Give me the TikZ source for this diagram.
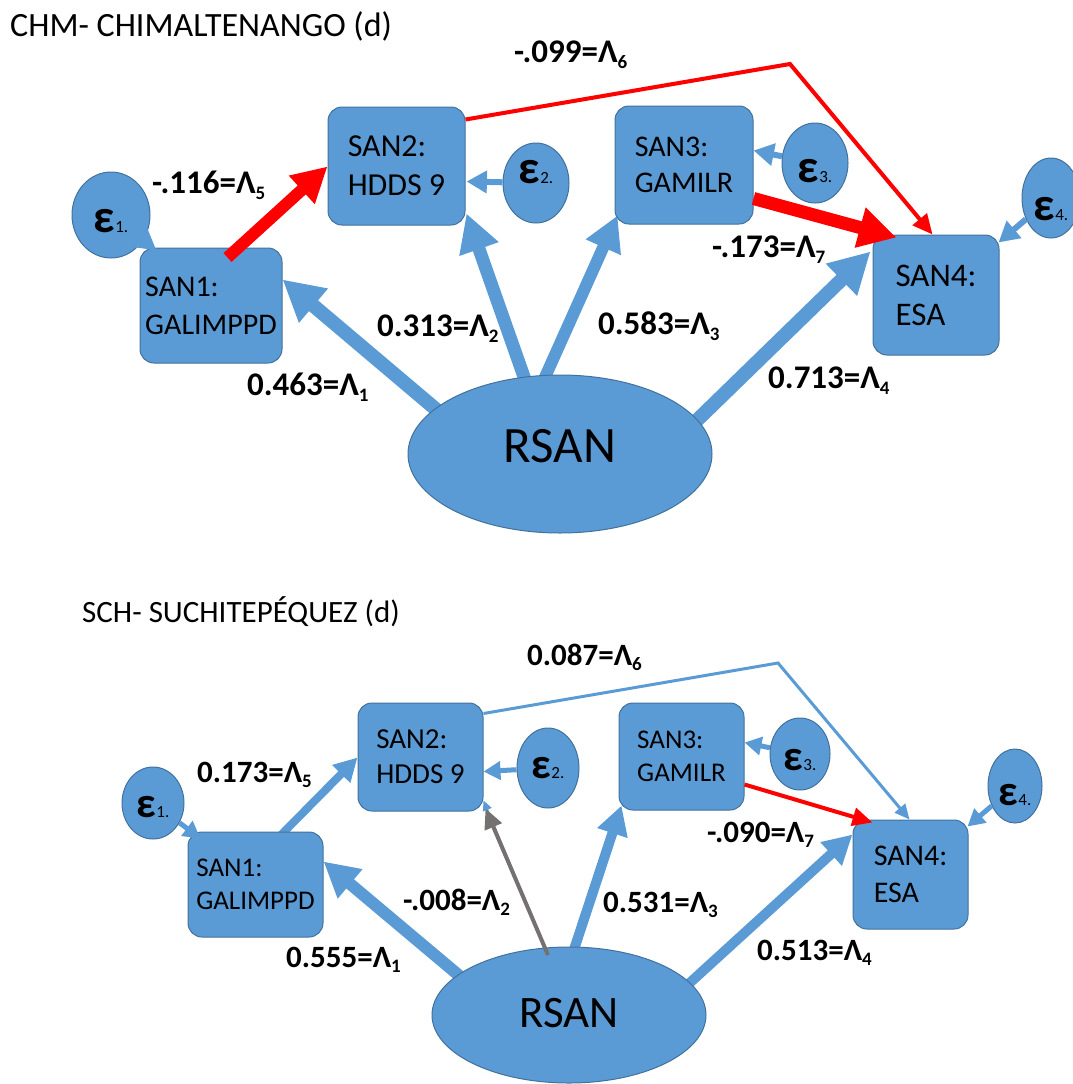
\documentclass[tikz,border=0pt]{standalone}
\usepackage{fontspec}
\setmainfont{Carlito}
\usetikzlibrary{arrows.meta,shapes.geometric,calc}

\definecolor{boxblue}{HTML}{5B9BD5}
\definecolor{edgeblue}{HTML}{41719C}
\definecolor{pathred}{HTML}{FF0000}
\definecolor{pathgray}{HTML}{767171}

\pgfdeclarelayer{background}
\pgfsetlayers{background,main}

% error term text: big epsilon with a small index, baseline set below the centre
\newcommand\epslabel[3]{\raisebox{-#2pt}[0pt][0pt]{\bfseries\fontsize{#3}{#3}\selectfont ε\normalfont\fontsize{17}{17}\selectfont #1.}}
% index of a loading: lowered, smaller digit
\newcommand\lsub[2][6]{\raisebox{-#1pt}{\fontsize{19}{19}\selectfont #2}}

\tikzset{
  sanbox/.style={draw=edgeblue, fill=boxblue, line width=1pt, rounded corners=14pt,
                 align=left, inner sep=0pt},
  latent/.style={ellipse, draw=edgeblue, fill=boxblue, line width=1pt, inner sep=0pt},
  errnode/.style={ellipse, draw=edgeblue, fill=boxblue, line width=1pt, inner sep=0pt},
  coef/.style={anchor=base west, inner sep=0pt},
  heading/.style={anchor=base west, inner sep=0pt},
  heavyarrow/.style={line width=#1, -{Triangle[length=0pt 2.9, width=0pt 3]}},
  midarrow/.style={line width=#1, -{Triangle[length=0pt 3.4, width=0pt 3.6]}},
  lightarrow/.style={line width=#1, -{Triangle[length=0pt 5, width=0pt 4.5]}},
}

\begin{document}
\begin{tikzpicture}[x=1pt, y=-1pt]
\useasboundingbox (0,0) rectangle (1073,1084);

%% ---------------- CHM - Chimaltenango ----------------
\node[heading, font=\fontsize{34}{34}\selectfont] (titleA) at (10,36) {CHM- CHIMALTENANGO (d)};

\node[latent, minimum width=304pt, minimum height=158pt] (rsanA) at (560,454)
  {\fontsize{51}{51}\selectfont\raisebox{-8pt}[0pt][0pt]{RSAN}};

\node[sanbox, minimum width=142pt, minimum height=115pt, font=\fontsize{30}{38}\selectfont]
  (sanA1) at (211,305.5) {SAN1:\\GALIMPPD};
\node[sanbox, minimum width=137pt, minimum height=118pt, font=\fontsize{32}{39}\selectfont]
  (sanA2) at (396.5,166) {SAN2:\\HDDS 9};
\node[sanbox, minimum width=138pt, minimum height=118pt, font=\fontsize{30}{36}\selectfont]
  (sanA3) at (684,165) {SAN3:\\GAMILR};
\node[sanbox, minimum width=126pt, minimum height=120pt, font=\fontsize{33}{39}\selectfont]
  (sanA4) at (936,295) {SAN4:\\ESA};

\node[errnode, minimum width=78pt, minimum height=86pt] (epsA1) at (111,215) {\epslabel{1}{17}{47}};
\node[errnode, minimum width=66pt, minimum height=80pt] (epsA2) at (536,183) {\epslabel{2}{0}{47}};
\node[errnode, minimum width=66pt, minimum height=80pt] (epsA3) at (815,163) {\epslabel{3}{19}{47}};
\node[errnode, minimum width=58pt, minimum height=80pt] (epsA4) at (1051,198) {\epslabel{4}{22}{47}};

\coordinate (bendA) at (790,64);

\begin{pgfonlayer}{background}
  \draw[heavyarrow=14pt, boxblue, shorten <=-8pt] (rsanA.160) -- ($(sanA1.north east)+(0,32)$);
  \draw[heavyarrow=13pt, boxblue, shorten <=-8pt] (rsanA.115) -- ($(sanA2.south east)+(1,-12)$);
  \draw[heavyarrow=12pt, boxblue, shorten <=-8pt] (rsanA.100) -- ($(sanA3.south west)+(3,-9)$);
  \draw[heavyarrow=14pt, boxblue, shorten <=-8pt] (rsanA.14) -- ($(sanA4.north west)+(-2,17)$);
\end{pgfonlayer}

\draw[heavyarrow=12pt, pathred] ($(sanA1.north west)+(88,10)$) -- ($(sanA2.north west)+(0,60)$);
\draw[heavyarrow=13pt, pathred] ($(sanA3.north east)+(0,93)$) -- ($(sanA4.north west)+(24,3)$);
\draw[lightarrow=4pt, pathred] ($(sanA2.north east)+(0,13)$) -- (bendA) -- ($(sanA4.north west)+(60,0)$);

\draw[midarrow=6pt, boxblue] (epsA1) -- ($(sanA1.north west)+(17,3)$);
\draw[midarrow=6pt, boxblue] (epsA2) -- ($(sanA2.south east)+(1,-44)$);
\draw[midarrow=6pt, boxblue] (epsA3) -- ($(sanA3.north east)+(0,45)$);
\draw[midarrow=6pt, boxblue] (epsA4) -- ($(sanA4.north east)+(-1,8)$);

\begin{scope}[every node/.style={coef, font=\bfseries\fontsize{33}{33}\selectfont}]
  \node (cA6) at (514,62)  {-.099=Λ\lsub{6}};
  \node (cA5) at (152,193) {-.116=Λ\lsub{5}};
  \node (cA2) at (377,336) {0.313=Λ\lsub{2}};
  \node (cA3) at (598,334) {0.583=Λ\lsub{3}};
  \node (cA1) at (247,395) {0.463=Λ\lsub{1}};
  \node (cA4) at (768,388) {0.713=Λ\lsub{4}};
  \node (cA7) at (712,257) {-.173=Λ\lsub{7}};
\end{scope}

%% ---------------- SCH - Suchitepequez ----------------
\node[heading, font=\fontsize{31}{31}\selectfont] (titleB) at (82,622) {SCH- SUCHITEPÉQUEZ (d)};

\node[latent, minimum width=274pt, minimum height=136pt] (rsanB) at (569,1015)
  {\fontsize{45}{45}\selectfont\raisebox{-12pt}[0pt][0pt]{RSAN}};

\node[sanbox, minimum width=135pt, minimum height=105pt, font=\fontsize{27}{33}\selectfont]
  (sanB1) at (255.5,884.5) {SAN1:\\GALIMPPD};
\node[sanbox, minimum width=125pt, minimum height=108pt, font=\fontsize{29}{35}\selectfont]
  (sanB2) at (420.5,757) {SAN2:\\HDDS 9};
\node[sanbox, minimum width=125pt, minimum height=107pt, font=\fontsize{27}{33}\selectfont]
  (sanB3) at (681.5,756.5) {SAN3:\\GAMILR};
\node[sanbox, minimum width=115pt, minimum height=109pt, font=\fontsize{30}{37}\selectfont]
  (sanB4) at (910.5,874.5) {SAN4:\\ESA};

\node[errnode, minimum width=62pt, minimum height=72pt] (epsB1) at (153,803) {\epslabel{1}{14}{43}};
\node[errnode, minimum width=62pt, minimum height=80pt] (epsB2) at (548,768) {\epslabel{2}{10}{43}};
\node[errnode, minimum width=60pt, minimum height=72pt] (epsB3) at (800,754) {\epslabel{3}{16}{43}};
\node[errnode, minimum width=54pt, minimum height=74pt] (epsB4) at (1015,786) {\epslabel{4}{19}{43}};

\coordinate (bendB) at (778,663);

\begin{pgfonlayer}{background}
  \draw[heavyarrow=12pt, boxblue, shorten <=-8pt] (rsanB.160) -- ($(sanB1.north east)+(0,30)$);
  \draw[heavyarrow=10pt, boxblue, shorten <=-8pt] (rsanB.85) -- ($(sanB3.south west)+(3,-5)$);
  \draw[heavyarrow=10pt, boxblue, shorten <=-8pt] (rsanB.15) -- ($(sanB4.north west)+(0,15)$);
  \draw[lightarrow=2pt, boxblue, shorten <=-8pt] (rsanB.110) -- ($(sanB2.south east)+(0,-11)$);
  \draw[heavyarrow=8pt, boxblue] ($(sanB1.north west)+(87,10)$) -- ($(sanB2.north west)+(0,55)$);
\end{pgfonlayer}

\draw[lightarrow=4pt, pathgray] ($(rsanB.center)+(-21,-60)$) -- ($(sanB2.south east)+(2,-3)$);
\draw[lightarrow=3pt, boxblue] ($(sanB2.north east)+(0,11)$) -- (bendB) -- ($(sanB4.north west)+(57,0)$);
\draw[lightarrow=4pt, pathred] ($(sanB3.north east)+(0,82)$) -- ($(sanB4.north west)+(20,3)$);

\draw[midarrow=5pt, boxblue] (epsB1) -- ($(sanB1.north west)+(13,7)$);
\draw[midarrow=5pt, boxblue] (epsB2) -- ($(sanB2.south east)+(0,-40)$);
\draw[midarrow=5pt, boxblue] (epsB3) -- ($(sanB3.north east)+(0,40)$);
\draw[midarrow=5pt, boxblue] (epsB4) -- ($(sanB4.north east)+(-1,7)$);

\begin{scope}[every node/.style={coef, font=\bfseries\fontsize{31}{31}\selectfont}]
  \node (cB6) at (527,665) {0.087=Λ\lsub[5]{6}};
  \node (cB5) at (197,782) {0.173=Λ\lsub[5]{5}};
  \node (cB2) at (403,910) {-.008=Λ\lsub[5]{2}};
  \node (cB3) at (603,912) {0.531=Λ\lsub[5]{3}};
  \node (cB1) at (286,967) {0.555=Λ\lsub[5]{1}};
  \node (cB4) at (757,960) {0.513=Λ\lsub[5]{4}};
  \node (cB7) at (707,842) {-.090=Λ\lsub[5]{7}};
\end{scope}
\end{tikzpicture}
\end{document}
